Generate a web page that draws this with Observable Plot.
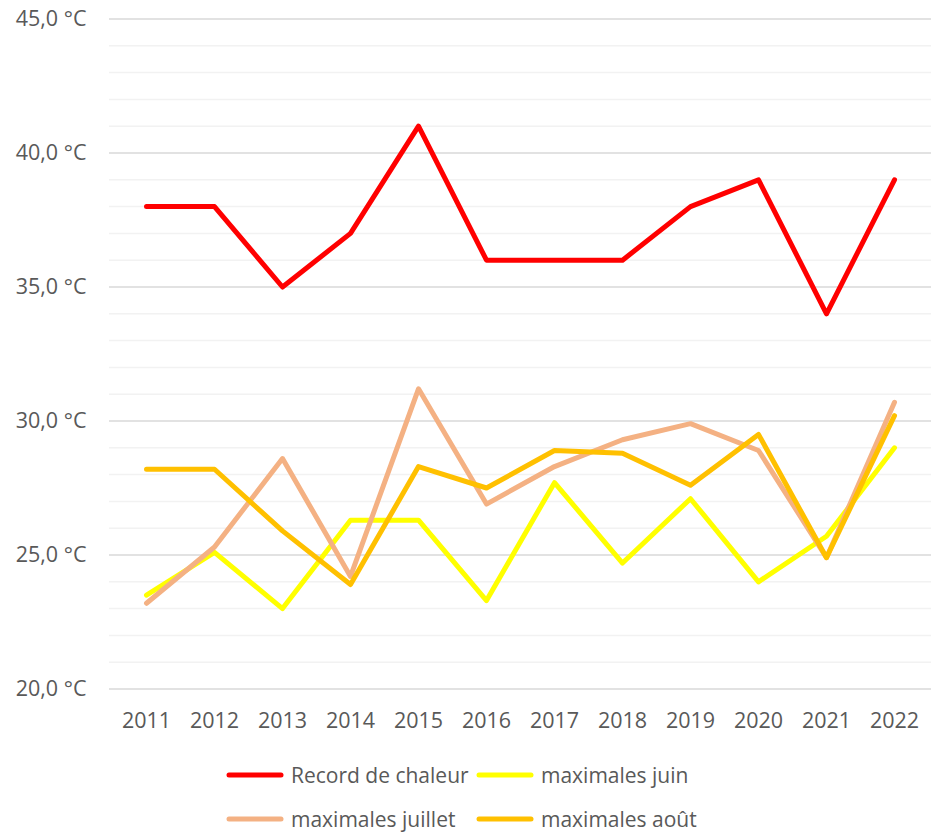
<!DOCTYPE html>
<html>
<head>
<meta charset="utf-8">
<script src="https://cdn.jsdelivr.net/npm/d3@7"></script>
<script src="https://cdn.jsdelivr.net/npm/@observablehq/plot@0.6"></script>
<style>
  body { margin: 0; background: #fff; font-family: "Open Sans", sans-serif; }
  #wrap { position: relative; width: 933px; height: 834px; overflow: hidden; }
  .leg { position: absolute; display: flex; align-items: center; font-size: 21px; line-height: 24px; color: #595959; white-space: nowrap; }
  .leg svg { margin-right: 7px; }
</style>
</head>
<body>
<div id="wrap"></div>
<script>
const years = ["2011","2012","2013","2014","2015","2016","2017","2018","2019","2020","2021","2022"];
const seriesNames = ["Record de chaleur", "maximales juin", "maximales juillet", "maximales août"];
const seriesColors = ["#ff0000", "#ffff00", "#f4b183", "#ffc000"];
const record  = [38, 38, 35, 37, 41, 36, 36, 36, 38, 39, 34, 39];
const juin    = [23.5, 25.1, 23.0, 26.3, 26.3, 23.3, 27.7, 24.7, 27.1, 24.0, 25.7, 29.0];
const juillet = [23.2, 25.3, 28.6, 24.2, 31.2, 26.9, 28.3, 29.3, 29.9, 28.9, 24.9, 30.7];
const aout    = [28.2, 28.2, 25.9, 23.9, 28.3, 27.5, 28.9, 28.8, 27.6, 29.5, 24.9, 30.2];
const majorTicks = [20, 25, 30, 35, 40, 45];
const minorTicks = d3.range(20, 46, 1).filter(v => v % 5 !== 0);

const allSeries = [record, juin, juillet, aout];
const data = [];
allSeries.forEach((vals, si) => vals.forEach((v, i) => data.push({series: seriesNames[si], year: years[i], value: v})));

const fmt = d => d.toFixed(1).replace(".", ",") + " °C";

const chart = Plot.plot({
  width: 933,
  height: 745,
  marginLeft: 109,
  marginRight: 2,
  marginTop: 18.5,
  marginBottom: 56.5,
  style: { fontFamily: "Open Sans, sans-serif", fontSize: "21px", color: "#595959", background: "#fff" },
  x: { type: "point", domain: years, padding: 0.5, label: null },
  y: { domain: [20, 45], label: null },
  color: { domain: seriesNames, range: seriesColors },
  marks: [
    Plot.ruleY(minorTicks, { stroke: "#f2f2f2", strokeWidth: 1.5 }),
    Plot.ruleY(majorTicks, { stroke: "#d9d9d9", strokeWidth: 1.5 }),
    Plot.axisY({ ticks: majorTicks, tickFormat: fmt, tickSize: 0, tickPadding: 23, fill: "#595959", fontSize: 21.5 }),
    Plot.axisX({ tickSize: 0, tickPadding: 24, fill: "#595959", fontSize: 21.5 }),
    Plot.line(data, { x: "year", y: "value", z: "series", stroke: "series", strokeWidth: 5, strokeLinecap: "round", strokeLinejoin: "round" })
  ]
});

const wrap = document.getElementById("wrap");
wrap.appendChild(chart);

const legPos = [[226, 775], [476, 775], [226, 819], [476, 819]];
seriesNames.forEach((name, i) => {
  const d = document.createElement("div");
  d.className = "leg";
  d.style.left = legPos[i][0] + "px";
  d.style.top = (legPos[i][1] - 12) + "px";
  d.style.height = "24px";
  d.innerHTML = `<svg width="58" height="8"><line x1="3" y1="4" x2="55" y2="4" stroke="${seriesColors[i]}" stroke-width="5" stroke-linecap="round"/></svg><span>${name}</span>`;
  wrap.appendChild(d);
});
</script>
</body>
</html>
